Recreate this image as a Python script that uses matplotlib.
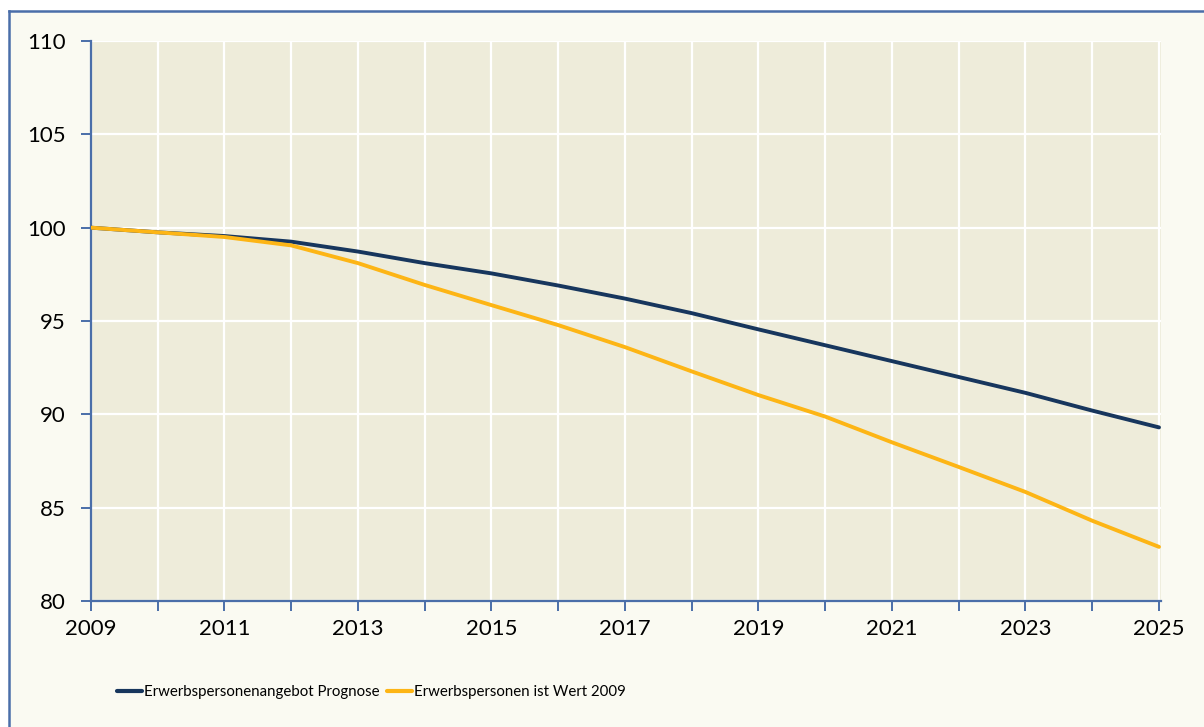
import matplotlib
matplotlib.use("Agg")
import matplotlib.pyplot as plt
from matplotlib.lines import Line2D

years = list(range(2009, 2026))
prognose = [100.0, 99.75, 99.55, 99.25, 98.72, 98.1, 97.55, 96.9, 96.2, 95.42,
            94.55, 93.7, 92.85, 92.0, 91.15, 90.2, 89.3]
wert2009 = [100.0, 99.75, 99.5, 99.05, 98.1, 96.93, 95.85, 94.78, 93.6, 92.3,
            91.03, 89.88, 88.5, 87.18, 85.84, 84.3, 82.9]
labels = ["Erwerbspersonenangebot Prognose", "Erwerbspersonen ist Wert 2009"]
yticks = [80, 85, 90, 95, 100, 105, 110]
xticklabels_years = list(range(2009, 2026, 2))

BLUE = "#17365D"
YELLOW = "#FDB515"
PLOT_BG = "#EEECDA"
FIG_BG = "#FAFAF2"
BORDER = "#4A6EA9"
AXIS = "#4A6EA9"

plt.rcParams['font.family'] = ['Lato', 'DejaVu Sans']

W, H = 1204, 727
fig = plt.figure(figsize=(W / 100, H / 100), dpi=100)
fig.patch.set_facecolor("white")

# outer frame (top and left border only visible)
bx, by = 9 / W, 1 - 11 / H
fig.patches.append(plt.Rectangle((bx, 0), 1 - bx, by, transform=fig.transFigure,
                                 facecolor=FIG_BG, edgecolor="none", zorder=-5))
fig.lines.append(Line2D([bx, 1], [by, by], transform=fig.transFigure, color=BORDER, lw=1.8, zorder=-4))
fig.lines.append(Line2D([bx, bx], [0, by], transform=fig.transFigure, color=BORDER, lw=1.8, zorder=-4))

ax = fig.add_axes([91 / W, 1 - 601 / H, (1161 - 91) / W, (601 - 41) / H])
ax.set_zorder(1)
ax.set_facecolor(PLOT_BG)

l1, = ax.plot(years, prognose, color=BLUE, lw=2.8, label=labels[0], zorder=3, solid_capstyle='round')
l2, = ax.plot(years, wert2009, color=YELLOW, lw=2.8, label=labels[1], zorder=3, solid_capstyle='round')

ax.set_xlim(2009, 2025.03)
ax.set_ylim(80, 110)
ax.set_yticks(yticks)
ax.set_xticks(years)
ax.set_xticklabels([str(y) if y in xticklabels_years else "" for y in years])

ax.grid(True, color="white", lw=1.6, zorder=1)
ax.set_axisbelow(True)

for s in ["top", "right"]:
    ax.spines[s].set_visible(False)
for s in ["left", "bottom"]:
    ax.spines[s].set_color(AXIS)
    ax.spines[s].set_linewidth(1.6)

ax.tick_params(axis="both", direction="out", length=7, width=1.4, color=AXIS,
               labelsize=16, labelcolor="black")
ax.tick_params(axis="x", pad=6)
ax.tick_params(axis="y", pad=11)

leg_kw = dict(frameon=False, prop={'family': ['Lato', 'DejaVu Sans'], 'size': 10.8},
              handlelength=1.65, handletextpad=0.15, borderaxespad=0, borderpad=0)
leg1 = fig.legend([l1], [labels[0]], loc="center left",
                  bbox_to_anchor=(117 / W, 1 - 692 / H), **leg_kw)
leg2 = fig.legend([l2], [labels[1]], loc="center left",
                  bbox_to_anchor=(387 / W, 1 - 692 / H), **leg_kw)
for lg in (leg1, leg2):
    for h in lg.legend_handles:
        h.set_linewidth(3)

fig.savefig("out.png", dpi=100, facecolor=fig.get_facecolor())
